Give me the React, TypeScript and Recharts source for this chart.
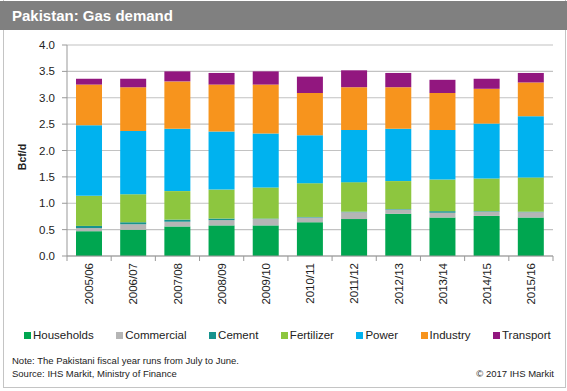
import React from 'react';
import { BarChart, Bar, XAxis, YAxis, CartesianGrid } from 'recharts';

const categories = ['2005/06', '2006/07', '2007/08', '2008/09', '2009/10', '2010/11', '2011/12', '2012/13', '2013/14', '2014/15', '2015/16'];
const households = [0.47, 0.50, 0.56, 0.58, 0.58, 0.64, 0.70, 0.80, 0.73, 0.76, 0.73];
const commercial = [0.06, 0.10, 0.09, 0.10, 0.12, 0.09, 0.13, 0.08, 0.09, 0.08, 0.10];
const cement = [0.04, 0.04, 0.04, 0.03, 0.01, 0.01, 0.01, 0.01, 0.03, 0.01, 0.01];
const fertilizer = [0.57, 0.53, 0.54, 0.55, 0.59, 0.64, 0.56, 0.53, 0.60, 0.62, 0.65];
const power = [1.34, 1.20, 1.18, 1.10, 1.02, 0.91, 0.99, 0.99, 0.94, 1.04, 1.16];
const industry = [0.77, 0.83, 0.90, 0.89, 0.93, 0.80, 0.81, 0.79, 0.70, 0.66, 0.64];
const transport = [0.11, 0.16, 0.19, 0.22, 0.25, 0.31, 0.32, 0.27, 0.25, 0.19, 0.18];
const yTicks = [0, 0.5, 1, 1.5, 2, 2.5, 3, 3.5, 4];

const seriesNames = ['Households', 'Commercial', 'Cement', 'Fertilizer', 'Power', 'Industry', 'Transport'];
const seriesValues = [households, commercial, cement, fertilizer, power, industry, transport];
const seriesColors = ['#00a650', '#b5b5b5', '#17938e', '#8dc63f', '#00b2ef', '#f7941d', '#92177f'];

const data = categories.map((c, i) => {
  const row: Record<string, any> = { name: c };
  seriesNames.forEach((s, k) => { row[s] = seriesValues[k][i]; });
  return row;
});

const FONT = '"Liberation Sans", Arial, sans-serif';
const CHART_W = 567;
const CHART_H = 320;
const YAXIS_W = 67;
const M_RIGHT = 14;
const BAND = (CHART_W - YAXIS_W - M_RIGHT) / categories.length;

const XTick = (props: any) => {
  const { x, y, payload } = props;
  const idx = categories.indexOf(payload.value);
  return (
    <g transform={`translate(${x},${y})`}>
      <line x1={-BAND / 2} x2={-BAND / 2} y1={0} y2={5} stroke="#999" />
      {idx === categories.length - 1 && (
        <line x1={BAND / 2} x2={BAND / 2} y1={0} y2={5} stroke="#999" />
      )}
      <text
        transform="rotate(-90)"
        x={-7}
        y={0}
        dy="0.36em"
        textAnchor="end"
        fill="#222"
        fontSize={11.5}
        fontFamily={FONT}
      >
        {payload.value}
      </text>
    </g>
  );
};

export default function App() {
  return (
    <div style={{ position: 'relative', width: 567, height: 391, background: '#fff', fontFamily: FONT, overflow: 'hidden' }}>
      <style>{`body{margin:0}`}</style>
      {/* frame */}
      <div style={{ position: 'absolute', left: 3, top: 0, width: 561, height: 387, border: '1px solid #c4c4c4', borderTop: 'none' }} />
      {/* title bar */}
      <div style={{ position: 'absolute', left: 0, top: 1, width: 567, height: 29, background: '#808080', color: '#fff', fontWeight: 'bold', fontSize: 15, lineHeight: '29px', paddingLeft: 12, boxSizing: 'border-box' }}>
        Pakistan: Gas demand
      </div>
      <div style={{ position: 'absolute', left: 0, top: 0 }}>
        <BarChart
          width={CHART_W}
          height={CHART_H}
          data={data}
          margin={{ top: 45, right: M_RIGHT, bottom: 0, left: 0 }}
          barSize={26}
        >
          <CartesianGrid horizontal vertical={false} stroke="#c2c2c2" strokeWidth={1.2} />
          <XAxis
            dataKey="name"
            height={64}
            interval={0}
            tickLine={false}
            tickSize={0}
            tickMargin={0}
            axisLine={{ stroke: '#999' }}
            tick={<XTick />}
          />
          <YAxis
            width={YAXIS_W}
            domain={[0, 4]}
            ticks={yTicks}
            interval={0}
            tickFormatter={(v: number) => v.toFixed(1)}
            tickSize={5}
            tickMargin={7}
            axisLine={{ stroke: '#999' }}
            tickLine={{ stroke: '#999' }}
            tick={{ fill: '#222', fontSize: 11.5, fontFamily: FONT }}
          />
          {seriesNames.map((s, k) => (
            <Bar key={s} dataKey={s} stackId="a" fill={seriesColors[k]} isAnimationActive={false} />
          ))}
        </BarChart>
      </div>
      {/* y label */}
      <div style={{ position: 'absolute', left: 22, top: 157, width: 0, height: 0 }}>
        <div style={{ position: 'absolute', transform: 'translate(-50%,-50%) rotate(-90deg)', fontSize: 10.5, fontWeight: 'bold', color: '#222', whiteSpace: 'nowrap' }}>
          Bcf/d
        </div>
      </div>
      {/* legend */}
      <div style={{ position: 'absolute', left: 24, top: 328, display: 'flex', alignItems: 'center', fontSize: 11.5, color: '#222', height: 14 }}>
        {seriesNames.map((s, k) => (
          <div key={s} style={{ display: 'flex', alignItems: 'center', marginRight: 22.5 }}>
            <span style={{ display: 'inline-block', width: 7, height: 7, background: seriesColors[k], marginRight: 2 }} />
            <span>{s}</span>
          </div>
        ))}
      </div>
      {/* notes */}
      <div style={{ position: 'absolute', left: 12, top: 354, fontSize: 9.5, color: '#222', lineHeight: '13px' }}>
        <div>Note: The Pakistani fiscal year runs from July to June.</div>
        <div>Source: IHS Markit, Ministry of Finance</div>
      </div>
      <div style={{ position: 'absolute', right: 13, top: 367, fontSize: 9.5, color: '#222', lineHeight: '13px' }}>
        © 2017 IHS Markit
      </div>
    </div>
  );
}
